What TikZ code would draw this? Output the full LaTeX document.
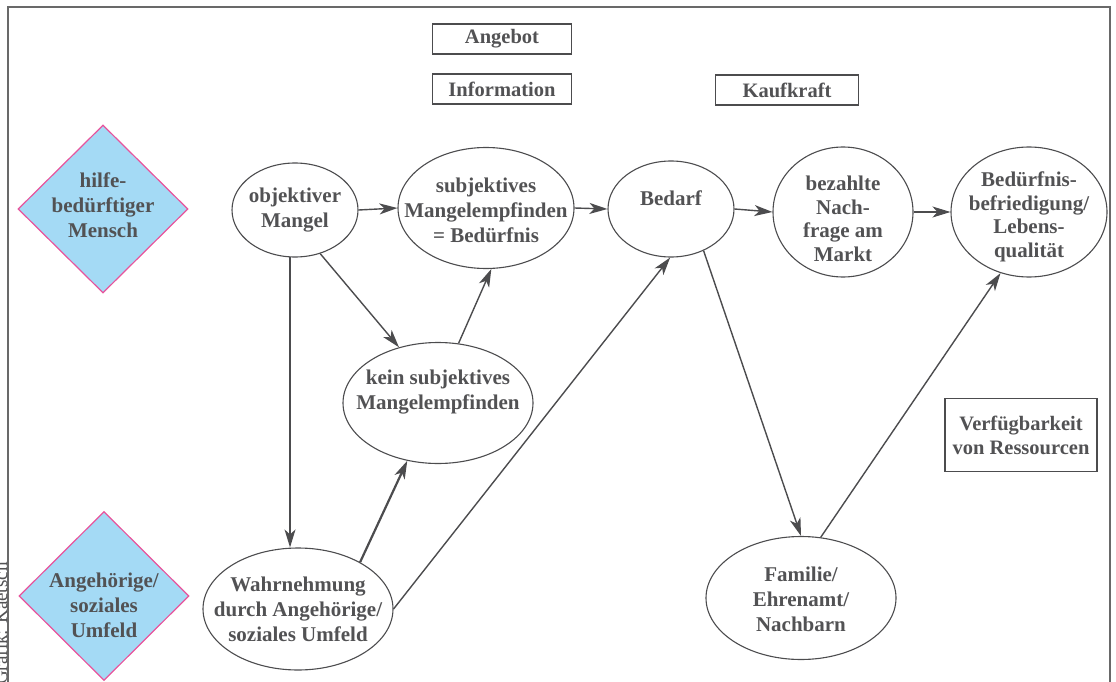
\documentclass[tikz,border=0pt]{standalone}
\usepackage{fontspec}
\setmainfont{Liberation Serif}
\usetikzlibrary{shapes.geometric,arrows.meta}
\definecolor{txtgray}{RGB}{82,82,84}
\definecolor{linegray}{RGB}{76,76,78}
\definecolor{framegray}{RGB}{105,105,105}
\definecolor{dfill}{RGB}{164,218,245}
\definecolor{dpink}{RGB}{232,84,156}
\begin{document}
\begin{tikzpicture}[x=1pt,y=-1pt,
  lbl/.style={font=\fontsize{21}{25}\selectfont\bfseries, text=txtgray, align=center, inner sep=0},
  lbltight/.style={font=\fontsize{21}{23.5}\selectfont\bfseries, text=txtgray, align=center, inner sep=0},
  ell/.style={ellipse, draw=linegray, line width=1.1pt, inner sep=0},
  dia/.style={diamond, aspect=1, draw=dpink, line width=1.2pt, fill=dfill, inner sep=0},
  bx/.style={rectangle, draw=linegray, line width=1.4pt, inner sep=0, font=\fontsize{20.5}{24}\selectfont\bfseries, text=txtgray, align=center},
  arr/.style={draw=linegray, line width=1.4pt, -{Stealth[length=18pt,width=11pt,inset=5pt]}},
]
\useasboundingbox (0,0) rectangle (1116,682);
% frame
\draw[framegray, line width=2pt] (8,700) -- (8,7) -- (1110,7) -- (1110,700);
\node[rotate=90, anchor=base west, inner sep=0, text=txtgray, font=\fontsize{19}{22}\selectfont] (credit) at (7,685) {Grafik: Kaetsch};

% top boxes
\node[bx, minimum width=139, minimum height=30] (ang) at (502,39) {Angebot};
\node[bx, minimum width=139, minimum height=30] (inf) at (502,89) {Information};
\node[bx, minimum width=143, minimum height=30] (kk) at (787,90) {Kaufkraft};
\node[bx, minimum width=152, minimum height=73] (vr) at (1021,435) {Verfügbarkeit\\von Ressourcen};

% diamonds
\node[dia, minimum width=170, minimum height=168] (d1) at (103,209) {};
\node[lbl] (d1t) at (103,205) {hilfe-\\bedürftiger\\Mensch};
\node[dia, minimum width=170, minimum height=169] (d2) at (104,596) {};
\node[lbl] (d2t) at (104,605) {Angehörige/\\soziales\\Umfeld};

% ellipses
\node[ell, minimum width=126, minimum height=94] (om) at (295,210) {};
\node[lbl] (omt) at (295,210) {objektiver\\Mangel};
\node[ell, minimum width=176, minimum height=121] (sm) at (486,208) {};
\node[lbl] (smt) at (486,210) {subjektives\\Mangelempfinden\\= Bedürfnis};
\node[ell, minimum width=126, minimum height=96] (bed) at (671,209) {};
\node[lbl] (bedt) at (671,198) {Bedarf};
\node[ell, minimum width=140, minimum height=130] (bez) at (843,212) {};
\node[lbltight] (bezt) at (843,219) {bezahlte\\Nach-\\frage am\\Markt};
\node[ell, minimum width=156, minimum height=130] (bbf) at (1029,212) {};
\node[lbltight] (bbft) at (1029,217) {Bedürfnis-\\befriedigung/\\Lebens-\\qualität};
\node[ell, minimum width=190, minimum height=121] (ksm) at (438,403) {};
\node[lbl] (ksmt) at (438,392) {kein subjektives\\Mangelempfinden};
\node[ell, minimum width=190, minimum height=122] (wa) at (298,609) {};
\node[lbl] (wat) at (298,609) {Wahrnehmung\\durch Angehörige/\\soziales Umfeld};
\node[ell, minimum width=190, minimum height=123] (fam) at (801,598) {};
\node[lbl] (famt) at (801,599) {Familie/\\Ehrenamt/\\Nachbarn};

% connectors
\draw[arr] (om.east) -- (sm.west);
\draw[arr] (sm.east) -- (bed.west);
\draw[arr] (bed.east) -- (bez.west);
\draw[arr] (bez.east) -- (bbf.west);
\draw[arr] (om.-60) -- (ksm.125);
\draw[arr] (om.-96) -- (om.-96 |- wa.north);
\draw[arr] (ksm.71) -- (sm.-85);
\draw[arr, line width=2.2pt] (wa.37) -- (ksm.-118);
\draw[arr] (wa.east) -- (bed.-91);
\draw[arr] (bed.-52) -- (fam.north);
\draw[arr] (fam.72) -- (bbf.-115);
\end{tikzpicture}
\end{document}
